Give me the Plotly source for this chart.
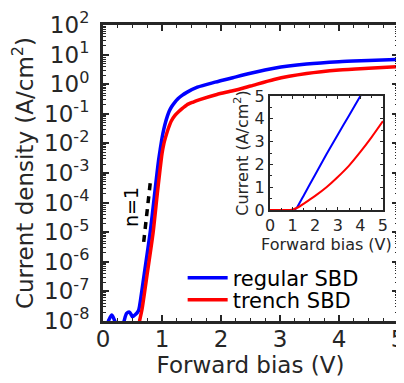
import plotly.graph_objects as go

# ---------------- data ----------------
# main panel (log scale)
v_regular = [0.0, 0.05, 0.10, 0.15, 0.20, 0.25, 0.30, 0.35, 0.40, 0.45, 0.50, 0.55,
             0.60, 0.62, 0.70, 0.80, 0.87, 0.91, 0.94, 0.97, 1.00, 1.03, 1.06, 1.09,
             1.12, 1.16, 1.21, 1.27, 1.34, 1.42, 1.60, 1.90, 2.20, 2.50, 2.90, 3.45,
             4.00, 4.50, 5.00]
j_regular = [8e-9, 6e-9, 1.1e-8, 1.6e-8, 1.0e-8, 5e-9, 5e-9, 9e-9, 1.8e-8, 2.0e-8,
             1.4e-8, 1.65e-8, 2.2e-8, 3.2e-8, 4.0e-7, 1.0e-5, 1.6e-4, 8e-4, 2.5e-3,
             6.3e-3, 1.5e-2, 3.0e-2, 5.2e-2, 8.2e-2, 0.12, 0.17, 0.235, 0.32, 0.42,
             0.53, 0.79, 1.17, 1.66, 2.34, 3.47, 4.79, 5.75, 6.3, 6.9]

v_trench = [0.60, 0.62, 0.66, 0.75, 0.85, 0.92, 0.96, 1.00, 1.03, 1.06, 1.10, 1.16,
            1.22, 1.28, 1.35, 1.42, 1.52, 1.64, 1.93, 2.20, 2.50, 2.90, 3.45, 4.00,
            4.50, 5.00]
j_trench = [5e-9, 1.0e-8, 2.4e-8, 4.0e-7, 1.0e-5, 2.0e-4, 1.0e-3, 4.5e-3, 9.5e-3,
            1.6e-2, 2.9e-2, 5.8e-2, 0.088, 0.117, 0.155, 0.20, 0.245, 0.30, 0.45,
            0.60, 0.87, 1.45, 2.29, 3.02, 3.47, 3.89]

# ideality-factor guide (n=1)
v_guide = [0.69, 0.81]
j_guide = [4.7e-6, 6.8e-4]

# inset (linear scale)
v_in_regular = [0.0, 0.5, 1.0, 1.1, 1.2, 1.5, 2.0, 2.5, 3.0, 3.5, 4.0, 4.5, 5.0]
j_in_regular = [0.0, 0.0, 0.0, 0.02, 0.12, 0.65, 1.55, 2.45, 3.3, 4.15, 5.0, 5.85, 6.7]

v_in_trench = [0.0, 0.5, 0.9, 1.0, 1.25, 1.5, 2.0, 2.5, 3.0, 3.5, 4.0, 4.5, 5.0]
j_in_trench = [0.0, 0.0, 0.0, 0.02, 0.12, 0.28, 0.62, 1.0, 1.45, 1.95, 2.55, 3.2, 3.9]

y_exponents = [-8, -7, -6, -5, -4, -3, -2, -1, 0, 1, 2]
y_ticktext = ["10<sup>%d</sup>" % e for e in y_exponents]
y_tickvals = [10.0 ** e for e in y_exponents]
y_minor = [k * 10.0 ** e for e in y_exponents[:-1] for k in range(2, 10)]

BLUE = "#0000FF"
RED = "#FF0000"
INK = "#262626"
FONT = "DejaVu Sans"

fig = go.Figure()

fig.add_trace(go.Scatter(x=v_regular, y=j_regular, mode="lines", name="regular SBD",
                         legend="legend",
                         line=dict(color=BLUE, width=3.5, shape="spline", smoothing=0.7)))
fig.add_trace(go.Scatter(x=v_trench, y=j_trench, mode="lines", name="trench SBD",
                         legend="legend2",
                         line=dict(color=RED, width=3.5, shape="spline", smoothing=0.7)))
fig.add_trace(go.Scatter(x=v_guide, y=j_guide, mode="lines", showlegend=False,
                         line=dict(color="black", width=3.5, dash="7px,6px")))

fig.add_trace(go.Scatter(x=v_in_regular, y=j_in_regular, mode="lines", showlegend=False,
                         xaxis="x2", yaxis="y2",
                         line=dict(color=BLUE, width=2, shape="spline", smoothing=0.5)))
fig.add_trace(go.Scatter(x=v_in_trench, y=j_in_trench, mode="lines", showlegend=False,
                         xaxis="x2", yaxis="y2",
                         line=dict(color=RED, width=2, shape="spline", smoothing=0.7)))

legend_common = dict(xanchor="left", yanchor="middle", bgcolor="rgba(0,0,0,0)",
                     borderwidth=0, font=dict(size=21, color="black"), itemwidth=40)

# the page body adds an 8px offset, so the figure is 8px smaller than the window
fig.update_layout(
    width=396, height=375,
    margin=dict(l=95, r=6, t=17, b=62, autoexpand=False),
    paper_bgcolor="white", plot_bgcolor="white",
    font=dict(family=FONT, size=23, color=INK),
    showlegend=True,
    legend=dict(x=0.27, y=0.145, **legend_common),
    legend2=dict(x=0.27, y=0.071, **legend_common),
    xaxis=dict(range=[0, 5], dtick=1, showline=True, linewidth=3, linecolor=INK,
               mirror="ticks", ticks="inside", ticklen=6, tickwidth=1.5, tickcolor=INK,
               minor=dict(dtick=0.25, ticks="inside", ticklen=3, tickwidth=1.2,
                          tickcolor=INK),
               showgrid=False, zeroline=False, ticklabelstandoff=-5, automargin=False,
               ticklabeloverflow="allow",
               tickfont=dict(size=23),
               title=dict(text="Forward bias (V)", font=dict(size=23), standoff=0)),
    yaxis=dict(type="log", range=[-8, 2], tickmode="array", tickvals=y_tickvals,
               ticktext=y_ticktext, showline=True, linewidth=3, linecolor=INK,
               mirror="ticks", ticks="inside", ticklen=6, tickwidth=1.5, tickcolor=INK,
               minor=dict(tickmode="array", tickvals=y_minor, ticks="inside",
                          ticklen=3, tickwidth=1.2, tickcolor=INK),
               showgrid=False, zeroline=False, ticklabelstandoff=6, automargin=False,
               ticklabeloverflow="allow",
               tickfont=dict(size=23),
               title=dict(text="Current density (A/cm<sup>2</sup>)",
                          font=dict(size=23), standoff=18)),
    xaxis2=dict(domain=[0.566, 0.949], anchor="y2", range=[0, 5], dtick=1,
                showline=True, linewidth=2, linecolor=INK, mirror="ticks",
                ticks="inside", ticklen=3, tickwidth=1, tickcolor=INK,
                minor=dict(dtick=0.5, ticks="inside", ticklen=2, tickcolor=INK),
                showgrid=False, zeroline=False, tickfont=dict(size=16), automargin=False,
                title=dict(text="Forward bias (V)", font=dict(size=16), standoff=0)),
    yaxis2=dict(domain=[0.375, 0.760], anchor="x2", range=[0, 5], dtick=1,
                showline=True, linewidth=2, linecolor=INK, mirror="ticks",
                ticks="inside", ticklen=3, tickwidth=1, tickcolor=INK,
                minor=dict(dtick=0.5, ticks="inside", ticklen=2, tickcolor=INK),
                showgrid=False, zeroline=False, tickfont=dict(size=16), automargin=False,
                title=dict(text="Current (A/cm<sup>2</sup>)", font=dict(size=16),
                           standoff=2)),
    annotations=[dict(x=0.475, y=-4.15, xref="x", yref="y", text="n=1",
                      showarrow=False, textangle=-90,
                      font=dict(size=19, color="black"))],
)

fig.write_html("out.html")
